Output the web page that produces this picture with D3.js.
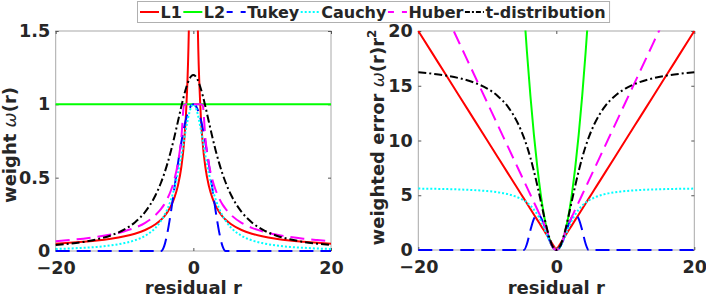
<!DOCTYPE html>
<html>
<head>
<meta charset="utf-8">
<script src="https://cdn.jsdelivr.net/npm/d3@7"></script>
<style>
  body { margin: 0; background: #fff; }
  svg { display: block; font-family: "DejaVu Sans", sans-serif; }
</style>
</head>
<body>
<div id="chart"></div>
<script>
var width = 706;
var height = 295;

// residual grid, read along the x axis
var residual = [-20,-18,-16,-14,-12,-10,-8.5,-7,-5.5,-4.69,-4.25,-3.75,-3.25,-2.75,-2.25,-1.75,-1.35,-1,-0.6,-0.3,0,
                0.3,0.6,1,1.35,1.75,2.25,2.75,3.25,3.75,4.25,4.69,5.5,7,8.5,10,12,14,16,18,20];

// left panel: weight w(r)
var weightL1 = [0.05,0.056,0.063,0.071,0.083,0.1,0.118,0.143,0.182,0.213,0.235,0.267,0.308,0.364,0.444,0.571,0.741,1,1.67,3.33,null,
                3.33,1.67,1,0.741,0.571,0.444,0.364,0.308,0.267,0.235,0.213,0.182,0.143,0.118,0.1,0.083,0.071,0.063,0.056,0.05];
var weightL2 = [1,1,1,1,1,1,1,1,1,1,1,1,1,1,1,1,1,1,1,1,1,
                1,1,1,1,1,1,1,1,1,1,1,1,1,1,1,1,1,1,1,1];
var weightTukey = [0,0,0,0,0,0,0,0,0,0,0.031,0.129,0.269,0.43,0.592,0.74,0.841,0.911,0.967,0.992,1,
                   0.992,0.967,0.911,0.841,0.74,0.592,0.43,0.269,0.129,0.031,0,0,0,0,0,0,0,0,0,0];
var weightCauchy = [0.014,0.017,0.022,0.028,0.038,0.054,0.073,0.104,0.158,0.206,0.24,0.288,0.35,0.429,0.529,0.65,0.757,0.85,0.94,0.984,1,
                    0.984,0.94,0.85,0.757,0.65,0.529,0.429,0.35,0.288,0.24,0.206,0.158,0.104,0.073,0.054,0.038,0.028,0.022,0.017,0.014];
var weightHuber = [0.067,0.075,0.084,0.096,0.112,0.135,0.158,0.192,0.245,0.287,0.316,0.359,0.414,0.489,0.598,0.769,0.996,1,1,1,1,
                   1,1,1,0.996,0.769,0.598,0.489,0.414,0.359,0.316,0.287,0.245,0.192,0.158,0.135,0.112,0.096,0.084,0.075,0.067];
var weightT = [0.041,0.05,0.062,0.08,0.106,0.147,0.195,0.267,0.38,0.467,0.524,0.599,0.684,0.779,0.881,0.985,1.062,1.12,1.17,1.192,1.2,
               1.192,1.17,1.12,1.062,0.985,0.881,0.779,0.684,0.599,0.524,0.467,0.38,0.267,0.195,0.147,0.106,0.08,0.062,0.05,0.041];

// right panel: weighted error w(r) r^2
var errL1 = [20,18,16,14,12,10,8.5,7,5.5,4.69,4.25,3.75,3.25,2.75,2.25,1.75,1.35,1,0.6,0.3,0,
             0.3,0.6,1,1.35,1.75,2.25,2.75,3.25,3.75,4.25,4.69,5.5,7,8.5,10,12,14,16,18,20];
var errL2 = [400,324,256,196,144,100,72.25,49,30.25,22,18.06,14.06,10.56,7.56,5.06,3.06,1.82,1,0.36,0.09,0,
             0.09,0.36,1,1.82,3.06,5.06,7.56,10.56,14.06,18.06,22,30.25,49,72.25,100,144,196,256,324,400];
var errTukey = [0,0,0,0,0,0,0,0,0,0,0.567,1.814,2.841,3.252,2.997,2.267,1.533,0.911,0.348,0.089,0,
                0.089,0.348,0.911,1.533,2.267,2.997,3.252,2.841,1.814,0.567,0,0,0,0,0,0,0,0,0,0];
var errCauchy = [5.608,5.59,5.564,5.527,5.472,5.382,5.273,5.1,4.78,4.52,4.326,4.05,3.697,3.244,2.678,1.991,1.38,0.85,0.338,0.089,0,
                 0.089,0.338,0.85,1.38,1.991,2.678,3.244,3.697,4.05,4.326,4.52,4.78,5.1,5.273,5.382,5.472,5.527,5.564,5.59,5.608];
var errHuber = [26.9,24.21,21.52,18.83,16.14,13.45,11.43,9.415,7.398,6.308,5.716,5.044,4.371,3.699,3.026,2.354,1.816,1,0.36,0.09,0,
                0.09,0.36,1,1.816,2.354,3.026,3.699,4.371,5.044,5.716,6.308,7.398,9.415,11.43,13.45,16.14,18.83,21.52,24.21,26.9];
var errT = [16.23,16.1,15.93,15.68,15.31,14.74,14.07,13.07,11.48,10.26,9.465,8.419,7.225,5.893,4.462,3.016,1.935,1.12,0.421,0.107,0,
            0.107,0.421,1.12,1.935,3.016,4.462,5.893,7.225,8.419,9.465,10.26,11.48,13.07,14.07,14.74,15.31,15.68,15.93,16.1,16.23];

var seriesNames = ["L1", "L2", "Tukey", "Cauchy", "Huber", "t-distribution"];
var xTicks = [-20, 0, 20];
var weightTicks = [0, 0.5, 1, 1.5];
var errTicks = [0, 5, 10, 15, 20];

var styles = [
    {color: "#ff0000", dash: null,        legendDash: null},
    {color: "#00ff00", dash: null,        legendDash: null},
    {color: "#0000ff", dash: "14,7",      legendDash: "6,8"},
    {color: "#00ffff", dash: "2,2",       legendDash: "2,2"},
    {color: "#ff00ff", dash: "14,7",      legendDash: "6,8"},
    {color: "#000000", dash: "8,3,2,3",   legendDash: "5,2,2,2"}
];

var svg = d3.select("#chart").append("svg").attr("width", width).attr("height", height);
var textColor = "#262626";
var tickFont = 17.6;
var labelFont = 18;

function drawPanel(id, xRange, yDomain, yRange, yTickVals, series) {
    var x = d3.scaleLinear().domain([-20, 20]).range(xRange);
    var y = d3.scaleLinear().domain(yDomain).range(yRange);
    var g = svg.append("g");

    g.append("clipPath").attr("id", id)
        .append("rect")
        .attr("x", xRange[0] - 2).attr("y", yRange[1] - 0.5)
        .attr("width", xRange[1] - xRange[0] + 4)
        .attr("height", yRange[0] - yRange[1] + 3);

    // axes box
    g.append("rect")
        .attr("x", xRange[0]).attr("y", yRange[1])
        .attr("width", xRange[1] - xRange[0]).attr("height", yRange[0] - yRange[1])
        .attr("fill", "none").attr("stroke", "#a8a8a8").attr("stroke-width", 1);

    var bottom = g.append("g").attr("transform", "translate(0," + yRange[0] + ")")
        .call(d3.axisBottom(x).tickValues(xTicks).tickSizeInner(-3).tickSizeOuter(0).tickPadding(10.5));
    var top = g.append("g").attr("transform", "translate(0," + yRange[1] + ")")
        .call(d3.axisTop(x).tickValues(xTicks).tickSizeInner(-3).tickSizeOuter(0).tickFormat(""));
    var left = g.append("g").attr("transform", "translate(" + xRange[0] + ",0)")
        .call(d3.axisLeft(y).tickValues(yTickVals).tickSizeInner(-3).tickSizeOuter(0).tickPadding(5.5).tickFormat(d3.format("")));
    var right = g.append("g").attr("transform", "translate(" + xRange[1] + ",0)")
        .call(d3.axisRight(y).tickValues(yTickVals).tickSizeInner(-3).tickSizeOuter(0).tickFormat(""));

    [bottom, top, left, right].forEach(function(a) {
        a.select(".domain").remove();
        a.selectAll(".tick line").attr("stroke", "#555");
        a.selectAll("text").attr("font-size", tickFont).attr("font-weight", "bold")
            .attr("font-family", "DejaVu Sans").attr("fill", textColor);
    });

    var line = d3.line()
        .defined(function(d) { return d[1] != null; })
        .x(function(d) { return x(d[0]); })
        .y(function(d) { return y(d[1]); })
        .curve(d3.curveMonotoneX);

    var plot = g.append("g").attr("clip-path", "url(#" + id + ")");
    for (let i = 0; i < series.length; i++) {
        var pts = residual.map(function(r, j) { return [r, series[i][j]]; });
        plot.append("path")
            .attr("d", line(pts))
            .attr("fill", "none")
            .attr("stroke", styles[i].color)
            .attr("stroke-width", 2)
            .attr("stroke-dasharray", styles[i].dash);
    }

    // x label
    g.append("text")
        .attr("x", (xRange[0] + xRange[1]) / 2).attr("y", 293.5)
        .attr("text-anchor", "middle")
        .attr("font-size", labelFont).attr("font-weight", "bold").attr("fill", textColor)
        .text("residual r");

    return {g: g, cy: (yRange[0] + yRange[1]) / 2};
}

var p1 = drawPanel("clipL", [55.7, 331], [0, 1.5], [251, 31], weightTicks,
    [weightL1, weightL2, weightTukey, weightCauchy, weightHuber, weightT]);
var p2 = drawPanel("clipR", [418.3, 694.3], [0, 20], [250, 31], errTicks,
    [errL1, errL2, errTukey, errCauchy, errHuber, errT]);

// y labels
var yl1 = p1.g.append("text")
    .attr("transform", "translate(16," + (p1.cy + 4) + ") rotate(-90)")
    .attr("text-anchor", "middle")
    .attr("font-size", labelFont).attr("font-weight", "bold").attr("fill", textColor);
yl1.append("tspan").text("weight ");
yl1.append("tspan").attr("font-style", "italic").attr("font-weight", "normal").text("ω");
yl1.append("tspan").text("(r)");

var yl2 = p2.g.append("text")
    .attr("transform", "translate(384," + (p2.cy - 3) + ") rotate(-90)")
    .attr("text-anchor", "middle")
    .attr("font-size", labelFont).attr("font-weight", "bold").attr("fill", textColor);
yl2.append("tspan").text("weighted error ");
yl2.append("tspan").attr("font-style", "italic").attr("font-weight", "normal").text("ω");
yl2.append("tspan").text("(r)r");
yl2.append("tspan").attr("font-size", 12).attr("dy", -8).text("2");

// legend
var legend = svg.append("g");
var box = legend.append("rect")
    .attr("x", 137.5).attr("y", 1.5).attr("height", 21)
    .attr("fill", "#fff").attr("stroke", "#b0b0b0").attr("stroke-width", 1);
var lx = 140;
for (let i = 0; i < seriesNames.length; i++) {
    legend.append("line")
        .attr("x1", lx).attr("x2", lx + 19).attr("y1", 12).attr("y2", 12)
        .attr("stroke", styles[i].color).attr("stroke-width", 2)
        .attr("stroke-dasharray", styles[i].legendDash);
    var t = legend.append("text")
        .attr("x", lx + 20.5).attr("y", 17.5)
        .attr("font-size", 16).attr("font-weight", "bold").attr("fill", textColor)
        .text(seriesNames[i]);
    lx += 20.5 + t.node().getComputedTextLength() + 1.5;
}
box.attr("width", lx + 2.5 - 137.5);
</script>
</body>
</html>
